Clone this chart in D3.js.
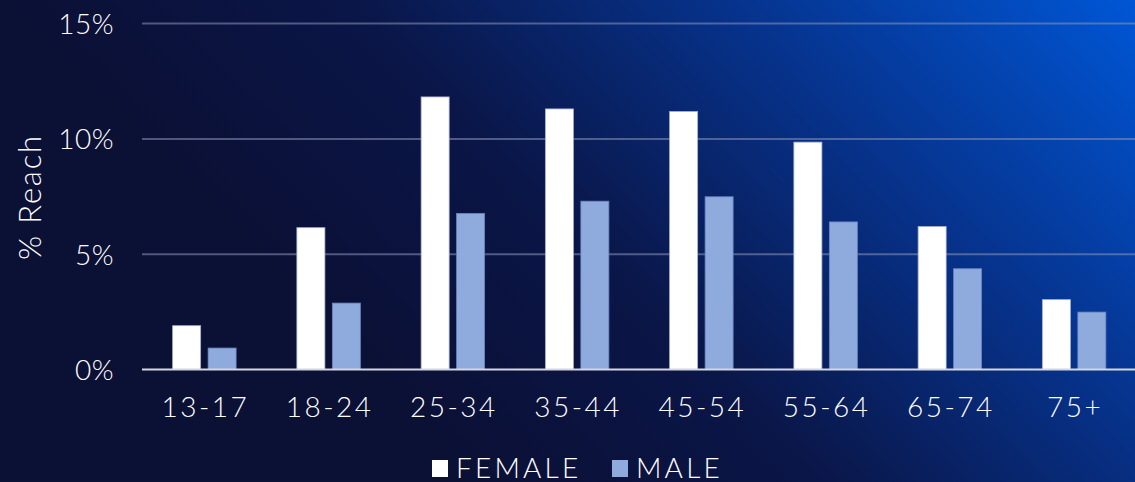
<!DOCTYPE html>
<html>
<head>
<meta charset="utf-8">
<script src="https://cdn.jsdelivr.net/npm/d3@7"></script>
<style>
  html, body { margin: 0; padding: 0; background: #0b1035; }
  svg { display: block; }
  text { font-family: Lato, "Open Sans", sans-serif; font-weight: 300; }
</style>
</head>
<body>
<svg id="chart" width="1135" height="482"></svg>
<script>
const categories = ["13-17", "18-24", "25-34", "35-44", "45-54", "55-64", "65-74", "75+"];
const seriesNames = ["FEMALE", "MALE"];
const female = [1.9, 6.15, 11.82, 11.3, 11.19, 9.86, 6.2, 3.03];
const male = [0.93, 2.88, 6.77, 7.3, 7.49, 6.4, 4.37, 2.49];
const yTicks = [0, 5, 10, 15];
const yLabel = "% Reach";

const W = 1135, H = 482;
const svg = d3.select("#chart");

// background gradient
const defs = svg.append("defs");
const grad = defs.append("linearGradient")
  .attr("id", "bg").attr("gradientUnits", "userSpaceOnUse")
  .attr("x1", 560).attr("y1", 560).attr("x2", 1135).attr("y2", 0);
grad.append("stop").attr("offset", "0").attr("stop-color", "#0b1035");
grad.append("stop").attr("offset", "0.3").attr("stop-color", "#0a1648");
grad.append("stop").attr("offset", "0.65").attr("stop-color", "#06348f");
grad.append("stop").attr("offset", "1").attr("stop-color", "#0056d6");
svg.append("rect").attr("width", W).attr("height", H).attr("fill", "url(#bg)");

const x0 = d3.scaleBand().domain(categories).range([142, 1136]).padding(0);
const x1 = d3.scaleBand().domain(seriesNames).range([-31.5, 32]).paddingInner(0.21);
const y = d3.scaleLinear().domain([0, 15]).range([369.5, 23.6]);

// gridlines
svg.append("g").selectAll("line").data(yTicks.filter(d => d > 0)).join("line")
  .attr("x1", 142).attr("x2", W)
  .attr("y1", d => y(d)).attr("y2", d => y(d))
  .attr("stroke", "#8a93b8").attr("stroke-opacity", 0.55).attr("stroke-width", 2);

// y axis labels
const yAxis = d3.axisLeft(y).tickValues(yTicks).tickFormat(d => d + "%").tickSize(0).tickPadding(0);
const gy = svg.append("g").attr("transform", "translate(114,0)").call(yAxis);
gy.select(".domain").remove();
gy.selectAll("text").attr("fill", "#ffffff").style("font-size", "28px")
  .style("font-family", "Lato, sans-serif").style("font-weight", 300)
  .style("letter-spacing", "0.5px").attr("dy", "0.36em");

// bars
const colors = { FEMALE: "#ffffff", MALE: "#8faadc" };
const strokes = { FEMALE: "#a9b0cc", MALE: "#6a84c0" };
const rows = categories.map((c, i) => ({ cat: c, vals: [
  { s: "FEMALE", v: female[i] }, { s: "MALE", v: male[i] }] }));
const groups = svg.append("g").selectAll("g").data(rows).join("g")
  .attr("transform", d => `translate(${x0(d.cat) + x0.bandwidth() / 2},0)`);
groups.selectAll("rect").data(d => d.vals).join("rect")
  .attr("x", d => x1(d.s)).attr("width", x1.bandwidth())
  .attr("y", d => y(d.v)).attr("height", d => y(0) - y(d.v))
  .attr("fill", d => colors[d.s]).attr("stroke", d => strokes[d.s]).attr("stroke-width", 0.8);

// zero line
svg.append("line").attr("x1", 142).attr("x2", W).attr("y1", y(0)).attr("y2", y(0))
  .attr("stroke", "#d4d6e0").attr("stroke-width", 2.2);

// x axis labels
const xAxis = d3.axisBottom(x0).tickSize(0).tickPadding(0);
const gx = svg.append("g").attr("transform", "translate(0,407)").call(xAxis);
gx.select(".domain").remove();
gx.selectAll("text").attr("fill", "#ffffff").attr("dy", "0.36em").style("font-size", "28px")
  .style("font-family", "Lato, sans-serif").style("font-weight", 300)
  .style("letter-spacing", "2.5px").attr("dx", "1.25px");

// y label
svg.append("text").attr("transform", "translate(41,197) rotate(-90)")
  .attr("text-anchor", "middle").attr("fill", "#ffffff")
  .style("font-size", "31px").style("letter-spacing", "1.8px").text(yLabel);

// legend
const legendX = [432, 612];
const lg = svg.append("g").selectAll("g").data(seriesNames).join("g")
  .attr("transform", (d, i) => `translate(${legendX[i]},0)`);
lg.append("rect").attr("x", 0).attr("y", 460).attr("width", 16).attr("height", 17)
  .attr("fill", d => colors[d]);
lg.append("text").attr("x", 24).attr("y", 477.5).attr("fill", "#ffffff")
  .style("font-size", "28px").style("letter-spacing", "3.2px").text(d => d);
</script>
</body>
</html>
